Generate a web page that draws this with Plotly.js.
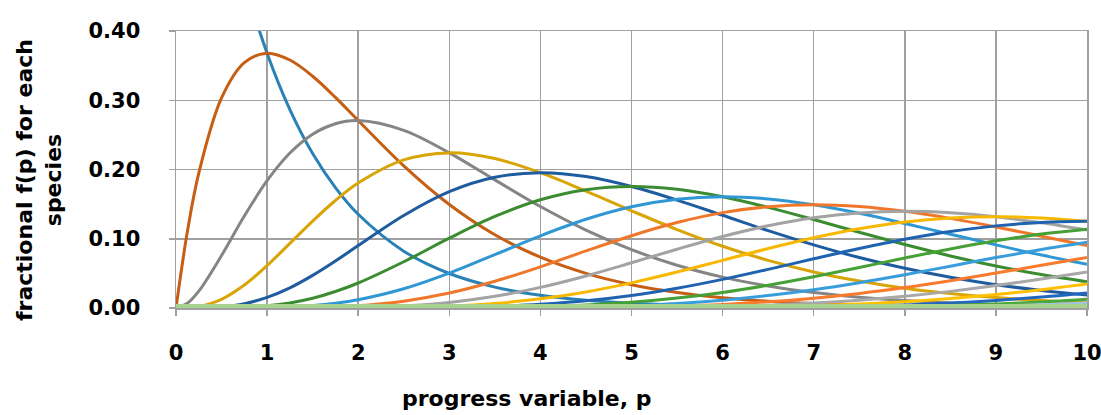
<!DOCTYPE html>
<html>
<head>
<meta charset="utf-8">
<script src="https://cdn.plot.ly/plotly-3.0.1.min.js"></script>
<style>
  html, body { margin: 0; padding: 0; background: #ffffff; }
  #chart { width: 1101px; height: 415px; }
</style>
</head>
<body>
<div id="chart"></div>
<script>
// progress variable p
const p = [0,0.125,0.25,0.5,0.75,1,1.25,1.5,1.75,2,2.5,3,3.5,4,4.5,5,5.5,6,6.5,7,7.5,8,8.5,9,9.5,10];

// fractional f(p) for species n = 0 ... 23
const f0  = [1,0.8825,0.7788,0.6065,0.4724,0.3679,0.2865,0.2231,0.1738,0.1353,0.0821,0.0498,0.0302,0.0183,0.0111,0.0067,0.0041,0.0025,0.0015,0.0009,0.0006,0.0003,0.0002,0.0001,0.0001,0.0000];
const f1  = [0,0.1103,0.1947,0.3033,0.3543,0.3679,0.3581,0.3347,0.3041,0.2707,0.2052,0.1494,0.1057,0.0733,0.0500,0.0337,0.0225,0.0149,0.0098,0.0064,0.0041,0.0027,0.0017,0.0011,0.0007,0.0005];
const f2  = [0,0.0069,0.0243,0.0758,0.1329,0.1839,0.2238,0.2510,0.2661,0.2707,0.2565,0.2240,0.1850,0.1465,0.1125,0.0842,0.0618,0.0446,0.0318,0.0223,0.0156,0.0107,0.0074,0.0050,0.0034,0.0023];
const f3  = [0,0.0003,0.0020,0.0126,0.0332,0.0613,0.0933,0.1255,0.1552,0.1804,0.2138,0.2240,0.2158,0.1954,0.1687,0.1404,0.1133,0.0892,0.0688,0.0521,0.0389,0.0286,0.0208,0.0150,0.0107,0.0076];
const f4  = [0,0,0.0001,0.0016,0.0062,0.0153,0.0291,0.0471,0.0679,0.0902,0.1336,0.1680,0.1888,0.1954,0.1898,0.1755,0.1558,0.1339,0.1118,0.0912,0.0729,0.0573,0.0443,0.0337,0.0254,0.0189];
const f5  = [0,0,0,0.0002,0.0009,0.0031,0.0073,0.0141,0.0238,0.0361,0.0668,0.1008,0.1322,0.1563,0.1708,0.1755,0.1714,0.1606,0.1453,0.1277,0.1094,0.0916,0.0752,0.0607,0.0483,0.0378];
const f6  = [0,0,0,0,0.0001,0.0005,0.0015,0.0035,0.0069,0.0120,0.0278,0.0504,0.0771,0.1042,0.1281,0.1462,0.1571,0.1606,0.1575,0.1490,0.1367,0.1221,0.1066,0.0911,0.0764,0.0631];
const f7  = [0,0,0,0,0,0.0001,0.0003,0.0008,0.0017,0.0034,0.0099,0.0216,0.0386,0.0595,0.0824,0.1044,0.1234,0.1377,0.1462,0.1490,0.1465,0.1396,0.1294,0.1171,0.1037,0.0901];
const f8  = [0,0,0,0,0,0,0,0.0001,0.0004,0.0009,0.0031,0.0081,0.0169,0.0298,0.0463,0.0653,0.0849,0.1033,0.1188,0.1304,0.1373,0.1396,0.1375,0.1318,0.1232,0.1126];
const f9  = [0,0,0,0,0,0,0,0,0.0001,0.0002,0.0009,0.0027,0.0066,0.0132,0.0232,0.0363,0.0519,0.0688,0.0858,0.1014,0.1144,0.1241,0.1299,0.1318,0.1300,0.1251];
const f10 = [0,0,0,0,0,0,0,0,0,0,0.0002,0.0008,0.0023,0.0053,0.0104,0.0181,0.0285,0.0413,0.0558,0.0710,0.0858,0.0993,0.1104,0.1186,0.1235,0.1251];
const f11 = [0,0,0,0,0,0,0,0,0,0,0,0.0002,0.0007,0.0019,0.0043,0.0082,0.0143,0.0225,0.0330,0.0452,0.0585,0.0722,0.0853,0.0970,0.1067,0.1137];
const f12 = [0,0,0,0,0,0,0,0,0,0,0,0.0001,0.0002,0.0006,0.0016,0.0034,0.0065,0.0113,0.0179,0.0264,0.0366,0.0481,0.0604,0.0728,0.0844,0.0948];
const f13 = [0,0,0,0,0,0,0,0,0,0,0,0,0.0001,0.0002,0.0006,0.0013,0.0028,0.0052,0.0089,0.0142,0.0211,0.0296,0.0395,0.0504,0.0617,0.0729];
const f14 = [0,0,0,0,0,0,0,0,0,0,0,0,0,0.0001,0.0002,0.0005,0.0011,0.0022,0.0041,0.0071,0.0113,0.0169,0.0240,0.0324,0.0419,0.0521];
const f15 = [0,0,0,0,0,0,0,0,0,0,0,0,0,0,0.0001,0.0002,0.0004,0.0009,0.0018,0.0033,0.0057,0.0090,0.0136,0.0194,0.0265,0.0347];
const f16 = [0,0,0,0,0,0,0,0,0,0,0,0,0,0,0,0,0.0001,0.0003,0.0007,0.0014,0.0026,0.0045,0.0072,0.0109,0.0158,0.0217];
const f17 = [0,0,0,0,0,0,0,0,0,0,0,0,0,0,0,0,0,0.0001,0.0003,0.0006,0.0012,0.0021,0.0036,0.0058,0.0088,0.0128];
const f18 = [0,0,0,0,0,0,0,0,0,0,0,0,0,0,0,0,0,0,0.0001,0.0002,0.0005,0.0009,0.0017,0.0029,0.0046,0.0071];
const f19 = [0,0,0,0,0,0,0,0,0,0,0,0,0,0,0,0,0,0,0,0.0001,0.0002,0.0004,0.0008,0.0014,0.0023,0.0037];
const f20 = [0,0,0,0,0,0,0,0,0,0,0,0,0,0,0,0,0,0,0,0,0.0001,0.0002,0.0003,0.0006,0.0011,0.0019];
const f21 = [0,0,0,0,0,0,0,0,0,0,0,0,0,0,0,0,0,0,0,0,0,0.0001,0.0001,0.0003,0.0005,0.0009];
const f22 = [0,0,0,0,0,0,0,0,0,0,0,0,0,0,0,0,0,0,0,0,0,0,0.0001,0.0001,0.0002,0.0004];
const f23 = [0,0,0,0,0,0,0,0,0,0,0,0,0,0,0,0,0,0,0,0,0,0,0,0,0.0001,0.0002];

const seriesValues = [f0,f1,f2,f3,f4,f5,f6,f7,f8,f9,f10,f11,f12,f13,f14,f15,f16,f17,f18,f19,f20,f21,f22,f23];

// styling
const colors = [
  '#2A81B6','#C65E14','#858585','#D9A406','#1F5B9F','#3B8C30',
  '#2F97D3','#F0772A','#A3A3A3','#F8B800','#1F63B0','#45A035',
  '#3A9DDB','#FB7B2E','#A8A8A8','#FFC000','#2266BE','#4CA83A',
  '#9DC3E6','#F4B183','#C9C9C9','#FFD966','#8FAADC','#A9D18E'
];

const traces = seriesValues.map((vals, i) => ({
  x: p,
  y: vals,
  type: 'scatter',
  mode: 'lines',
  name: 'n = ' + i,
  line: { color: colors[i], width: i === seriesValues.length - 1 ? 8 : 3, shape: 'spline', smoothing: 1 },
  hoverinfo: 'x+y+name'
}));

const FONT = 'DejaVu Sans, Lato, sans-serif';
const L = 176, R = 1087, T = 31, B = 308;
const W = 1101, H = 415;

const layout = {
  width: W, height: H,
  margin: { l: L, r: W - R, t: T, b: H - B, pad: 0 },
  paper_bgcolor: '#ffffff',
  plot_bgcolor: '#ffffff',
  showlegend: false,
  font: { family: FONT, color: '#000000' },
  xaxis: {
    range: [0, 10], dtick: 1, tick0: 0,
    showgrid: true, gridcolor: '#A0A0A0', gridwidth: 1.5,
    showline: true, linecolor: '#A0A0A0', linewidth: 1.5, mirror: true,
    zeroline: false, layer: 'below traces',
    ticks: 'outside', ticklen: 6, tickcolor: '#A0A0A0', tickwidth: 1.5,
    ticklabelstandoff: 19, ticklabeloverflow: 'allow',
    tickfont: { family: FONT, size: 21, color: '#000000', weight: 'bold' }
  },
  yaxis: {
    range: [0, 0.4], dtick: 0.1, tick0: 0, tickformat: '.2f',
    showgrid: true, gridcolor: '#A0A0A0', gridwidth: 1.5,
    showline: true, linecolor: '#A0A0A0', linewidth: 1.5, mirror: true,
    zeroline: false, layer: 'below traces',
    ticks: 'outside', ticklen: 6, tickcolor: '#A0A0A0', tickwidth: 1.5,
    ticklabelstandoff: 24, ticklabeloverflow: 'allow',
    tickfont: { family: FONT, size: 21, color: '#000000', weight: 'bold' }
  },
  annotations: [
    {
      text: '<b>progress variable, p</b>',
      xref: 'paper', yref: 'paper',
      x: (526 - L) / (R - L), y: (B - 398) / (B - T),
      xanchor: 'center', yanchor: 'middle', showarrow: false,
      font: { family: FONT, size: 22, color: '#000000' }
    },
    {
      text: '<b>fractional f(p) for each<br>species</b>',
      xref: 'paper', yref: 'paper',
      x: (39 - L) / (R - L), y: (B - 180) / (B - T),
      xanchor: 'center', yanchor: 'middle', showarrow: false, textangle: -90,
      font: { family: FONT, size: 22, color: '#000000' }
    }
  ]
};

Plotly.newPlot('chart', traces, layout, { displayModeBar: false, staticPlot: true });
</script>
</body>
</html>
